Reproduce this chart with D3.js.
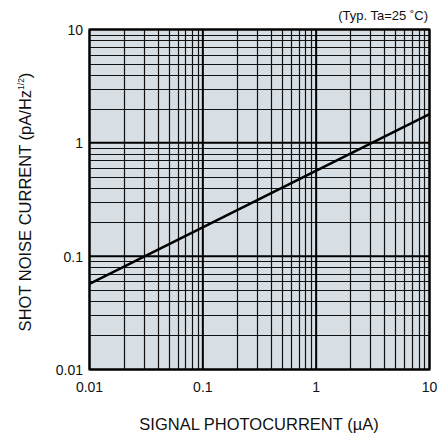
<!DOCTYPE html>
<html>
<head>
<meta charset="utf-8">
<script src="https://cdn.jsdelivr.net/npm/d3@7"></script>
<style>
  body { margin: 0; background: #fff; }
  text { font-family: "Liberation Sans", Arial, sans-serif; fill: #111; }
</style>
</head>
<body>
<svg width="440" height="436"></svg>
<script>
// values
const currentUA = [0.01, 10];          // signal photocurrent (uA)
const noisePA = [0.057, 1.79];         // shot noise (pA/Hz^1/2)
const xTicks = [0.01, 0.1, 1, 10];
const xTickLabels = ["0.01", "0.1", "1", "10"];
const yTicks = [0.01, 0.1, 1, 10];
const yTickLabels = ["0.01", "0.1", "1", "10"];

const svg = d3.select("svg");
const pL = 89.5, pR = 429.5, pT = 29.5, pB = 369.5;

const x = d3.scaleLog().domain([0.01, 10]).range([pL, pR]);
const y = d3.scaleLog().domain([0.01, 10]).range([pB, pT]);

svg.append("rect")
    .attr("x", pL).attr("y", pT)
    .attr("width", pR - pL).attr("height", pB - pT)
    .attr("fill", "#d7dfe5");

// minor grid 2..9 per decade
const minor = [];
for (let e = -2; e < 1; e++)
  for (let m = 2; m <= 9; m++) minor.push(m * Math.pow(10, e));

const g = svg.append("g");
g.selectAll(".vx").data(minor).join("line")
    .attr("x1", d => Math.round(x(d)) + 0.5).attr("x2", d => Math.round(x(d)) + 0.5)
    .attr("y1", pT).attr("y2", pB)
    .attr("stroke", "#111").attr("stroke-width", 1.2);
g.selectAll(".hy").data(minor).join("line")
    .attr("y1", d => Math.round(y(d)) + 0.5).attr("y2", d => Math.round(y(d)) + 0.5)
    .attr("x1", pL).attr("x2", pR)
    .attr("stroke", "#111").attr("stroke-width", 1.2);

// decade lines
g.selectAll(".dx").data(xTicks).join("line")
    .attr("x1", d => x(d)).attr("x2", d => x(d))
    .attr("y1", pT).attr("y2", pB)
    .attr("stroke", "#000").attr("stroke-width", 2);
g.selectAll(".dy").data(yTicks).join("line")
    .attr("y1", d => y(d)).attr("y2", d => y(d))
    .attr("x1", pL).attr("x2", pR)
    .attr("stroke", "#000").attr("stroke-width", 2);

svg.append("rect")
    .attr("x", pL).attr("y", pT)
    .attr("width", pR - pL).attr("height", pB - pT)
    .attr("fill", "none").attr("stroke", "#000").attr("stroke-width", 2);

// the curve
const pts = currentUA.map((c, i) => [c, noisePA[i]]);
svg.append("path")
    .datum(pts)
    .attr("d", d3.line().x(d => x(d[0])).y(d => y(d[1])))
    .attr("fill", "none").attr("stroke", "#000").attr("stroke-width", 2.5);

// tick labels
svg.selectAll(".xt").data(xTicks).join("text")
    .attr("x", d => x(d)).attr("y", 392)
    .attr("text-anchor", "middle").attr("font-size", 14)
    .text((d, i) => xTickLabels[i]);
svg.selectAll(".yt").data(yTicks).join("text")
    .attr("x", 83).attr("y", d => y(d) + 5.5)
    .attr("text-anchor", "end").attr("font-size", 14)
    .text((d, i) => yTickLabels[i]);

// axis titles
svg.append("text")
    .attr("x", 259).attr("y", 430)
    .attr("text-anchor", "middle").attr("font-size", 16.5)
    .text("SIGNAL PHOTOCURRENT (\u00b5A)");

const yl = svg.append("text")
    .attr("transform", "translate(31,202) rotate(-90)")
    .attr("text-anchor", "middle").attr("font-size", 16.5);
yl.append("tspan").text("SHOT NOISE CURRENT (pA/Hz");
yl.append("tspan").attr("font-size", 8.5).attr("dy", -7).text("1/2");
yl.append("tspan").attr("dy", 7).text(")");

svg.append("text")
    .attr("x", 428).attr("y", 20)
    .attr("text-anchor", "end").attr("font-size", 13)
    .text("(Typ. Ta=25 \u02daC)");
</script>
</body>
</html>
